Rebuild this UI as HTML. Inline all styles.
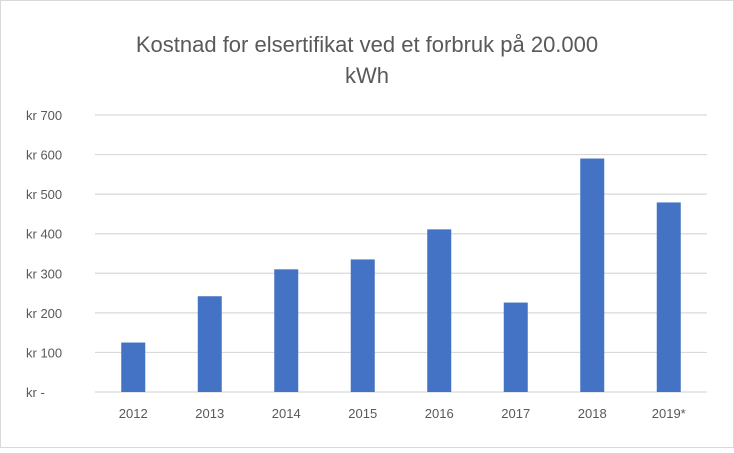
<!DOCTYPE html>
<html><head><meta charset="utf-8"><style>
body{margin:0;background:#fff;font-family:"Liberation Sans",sans-serif}
</style></head><body>
<svg width="734" height="448" xmlns="http://www.w3.org/2000/svg">
<rect x="0.5" y="0.5" width="733" height="447" fill="#fff" stroke="#d9d9d9"/>
<text x="367" y="52" text-anchor="middle" font-size="22" fill="#595959">Kostnad for elsertifikat ved et forbruk på 20.000</text>
<text x="367" y="83" text-anchor="middle" font-size="22" fill="#595959">kWh</text>
<g id="g"></g>
</svg>
<script>
const categories=["2012","2013","2014","2015","2016","2017","2018","2019*"];
const values=[125,242,310,335,411,226,590,479];
const yTicks=[0,100,200,300,400,500,600,700];
const yTickLabels=["kr  -","kr  100","kr  200","kr  300","kr  400","kr  500","kr  600","kr  700"];
const g=document.getElementById('g');
const NS="http://www.w3.org/2000/svg";
const x0=95,x1=707,y0=392,y1=115,yMax=700;
const y=v=>y0-(v/yMax)*(y0-y1);
const band=(x1-x0)/categories.length;
const xc=i=>x0+band*(i+0.5);
function mk(t,a){const e=document.createElementNS(NS,t);for(const k in a)e.setAttribute(k,a[k]);g.appendChild(e);return e;}
yTicks.forEach((t,i)=>{
 const l=mk('line',{x1:x0,x2:x1,y1:y(t),y2:y(t),stroke:'#d9d9d9','stroke-width':1.2});
 
 
 const tx=mk('text',{x:26,y:y(t)+5,'font-size':13,fill:'#595959'});
 tx.textContent=yTickLabels[i];
 
 
});
values.forEach((v,i)=>{
 const r=mk('rect',{x:xc(i)-12,y:y(v),width:24,height:y0-y(v),fill:'#4472c4'});
 
 
 const tx=mk('text',{x:xc(i),y:418,'text-anchor':'middle','font-size':13,fill:'#595959'});
 tx.textContent=categories[i];
 
 
});
</script>
</body></html>
